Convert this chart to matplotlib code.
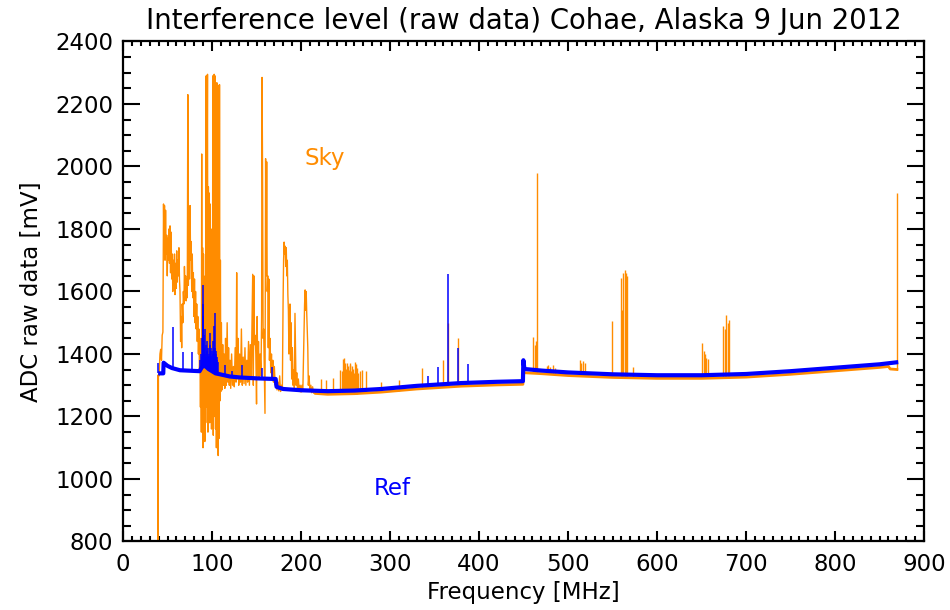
import numpy as np
import matplotlib
matplotlib.use('Agg')
import matplotlib.pyplot as plt
from matplotlib.ticker import MultipleLocator

# Sky channel: dense, RFI-heavy part of the trace (MHz, mV)
sky_dense_freq = [39.0, 39.5, 39.8, 40.5, 41.5, 42.3, 43.2, 44.0, 44.8, 45.5, 46.0, 46.6, 47.2, 47.8,
                  48.4, 49.1, 49.7, 50.3, 50.9, 51.5, 52.2, 52.8, 53.4, 54.0, 54.7, 55.3, 55.9, 56.5,
                  57.2, 57.8, 58.4, 59.0, 59.7, 60.3, 60.9, 61.5, 62.2, 62.8, 63.4, 64.0, 64.7, 65.3,
                  65.9, 66.5, 67.2, 67.8, 68.4, 69.0, 69.7, 70.3, 70.9, 71.5, 72.2, 72.8, 73.4, 74.0,
                  74.7, 75.3, 75.9, 76.5, 77.2, 77.8, 78.4, 79.0, 79.7, 80.3, 80.9, 81.5, 82.2, 82.8,
                  83.4, 84.0, 84.7, 85.3, 85.9, 86.5, 87.0, 87.5, 88.0, 88.4, 88.9, 89.4, 89.9, 90.4,
                  90.9, 91.4, 91.9, 92.4, 92.9, 93.4, 93.9, 94.4, 94.9, 95.4, 95.9, 96.4, 96.9, 97.4,
                  97.9, 98.4, 98.9, 99.4, 99.9, 100.4, 100.9, 101.4, 101.9, 102.4, 102.9, 103.4,
                  103.9, 104.4, 104.9, 105.4, 105.9, 106.4, 106.9, 107.4, 107.9, 108.4, 108.9,
                  109.4, 109.9, 110.5, 111.2, 112.0, 112.8, 113.6, 114.4, 115.2, 116.0, 117.0,
                  117.8, 118.6, 119.4, 120.2, 121.0, 122.0, 123.0, 124.0, 125.0, 126.0, 127.0,
                  127.7, 128.4, 129.2, 130.0, 131.0, 132.0, 133.0, 134.0, 135.0, 136.0, 137.0,
                  138.0, 139.0, 140.0, 141.0, 142.0, 143.0, 144.0, 145.0, 145.7, 146.4, 147.0,
                  147.7, 148.4, 149.2, 150.0, 150.7, 151.4, 152.2, 153.0, 154.0, 155.0, 155.7,
                  156.2, 156.8, 157.4, 158.0, 158.7, 159.5, 160.2, 160.8, 161.4, 162.0, 162.6,
                  163.2, 163.8, 164.5, 165.2, 166.0, 166.8, 167.5, 168.3, 169.0, 170.0, 171.0,
                  172.0, 173.0, 174.0, 175.0, 176.0, 177.0, 178.0, 179.0, 179.8, 180.4, 181.0,
                  181.6, 182.2, 182.8, 183.4, 184.0, 184.6, 185.2, 185.8, 186.4, 187.0, 187.6,
                  188.2, 188.8, 189.5, 190.2, 191.0, 191.8, 192.5, 193.2, 193.8, 194.4, 195.2,
                  196.0, 197.0, 198.0, 199.0, 200.0, 201.0, 202.0, 203.2, 204.0, 204.6, 205.2,
                  205.8, 206.4, 207.0, 207.6, 208.2, 209.0, 210.0, 211.0, 212.0, 213.0, 214.0, 215.0]
sky_dense_mv = [1330, 780, 1335, 1330, 1400, 1415, 1380, 1460, 1470, 1880, 1760, 1875, 1700, 1860,
                1720, 1780, 1650, 1770, 1700, 1800, 1690, 1810, 1660, 1790, 1640, 1720, 1600, 1700,
                1620, 1720, 1590, 1690, 1610, 1730, 1630, 1700, 1650, 1740, 1640, 1600, 1440, 1520,
                1420, 1560, 1500, 1600, 1560, 1680, 1600, 1650, 1570, 1640, 1580, 2230, 1620, 1860,
                1640, 1875, 1700, 1760, 1600, 1720, 1580, 1660, 1520, 1640, 1500, 1600, 1480, 1560,
                1440, 1520, 1400, 1480, 1350, 1400, 1230, 1450, 1150, 2040, 1200, 1740, 1100, 1720,
                1250, 1600, 1120, 1650, 1180, 2290, 1230, 1900, 2295, 1150, 1935, 1250, 1915, 1180,
                1880, 1300, 1700, 1160, 1800, 1240, 2290, 1140, 1950, 2295, 1200, 2290,
                1160, 2265, 1100, 2268, 1300, 2260, 1075, 1900, 1130, 2262, 1250,
                1700, 1280, 1500, 1285, 1430, 1300, 1400, 1290, 1450, 1300, 1500,
                1310, 1420, 1300, 1380, 1290, 1400, 1300, 1360, 1295, 1420, 1310,
                1660, 1320, 1450, 1300, 1400, 1310, 1480, 1300, 1390, 1305, 1420,
                1300, 1380, 1310, 1440, 1300, 1430, 1320, 1520, 1655, 1300, 1650,
                1430, 1460, 1400, 1240, 1520, 1330, 1440, 1320, 1400, 1330, 1520,
                2285, 1960, 1450, 1480, 1350, 1210, 2025, 1650, 2015, 1600, 1650,
                1420, 1640, 1380, 1450, 1340, 1400, 1320, 1380, 1310, 1360, 1300,
                1320, 1285, 1310, 1282, 1330, 1280, 1300, 1285, 1560, 1700, 1758,
                1720, 1745, 1680, 1740, 1650, 1700, 1590, 1540, 1400, 1450, 1560,
                1380, 1500, 1320, 1420, 1300, 1350, 1290, 1530, 1420, 1300, 1340,
                1285, 1320, 1280, 1300, 1278, 1300, 1280, 1450, 1560, 1605, 1540,
                1600, 1530, 1480, 1420, 1300, 1330, 1280, 1300, 1276, 1295, 1275, 1274]

# Sky channel floor above 215 MHz and the narrow RFI lines on top of it
sky_floor_freq = [215, 230, 260, 290, 330, 380, 420, 449.3, 449.8, 451, 470, 500, 550, 600, 650,
                  700, 750, 800, 850, 860, 862, 871]
sky_floor_mv = [1274, 1271, 1273, 1278, 1288, 1297, 1301, 1303, 1340, 1340, 1337, 1331, 1325, 1322,
                1322, 1326, 1335, 1346, 1357, 1360, 1352, 1350]
sky_spike_freq = [222, 228, 236, 244, 245.5, 247, 248, 249, 250.5, 251.5, 252.5, 253.5, 254.5, 255.5,
                  256.5, 257.5, 258.5, 259.5, 260.5, 261.5, 262.5, 264, 266, 268, 273, 290, 310,
                  335.6, 359.6, 365.5, 376.8, 461, 462.5, 463.5, 464.8, 476, 478, 480, 483, 485,
                  513.5, 515, 517, 519, 549.8, 560, 561, 562, 563.5, 565, 566.5, 573,
                  651, 652.5, 654, 655.5, 657, 674.5, 676, 678, 679.5, 681, 870]
sky_spike_top = [1320, 1318, 1322, 1350, 1345, 1385, 1387, 1370, 1352, 1372, 1362, 1350, 1366, 1372,
                 1345, 1362, 1352, 1340, 1375, 1368, 1355, 1340, 1345, 1350, 1346, 1310, 1318,
                 1355, 1381, 1499, 1451, 1455, 1430, 1440, 1978, 1360, 1365, 1358, 1365, 1355,
                 1381, 1372, 1378, 1371, 1505, 1643, 1541, 1660, 1669, 1660, 1650, 1358,
                 1436, 1410, 1400, 1388, 1385, 1488, 1480, 1525, 1500, 1510, 1916]

# Reference channel: baseline and spikes
ref_base_freq = [39.5, 45.2, 45.6, 50, 55, 64, 86, 88, 90, 93, 96, 100, 104, 109, 120, 131, 150,
                 171.5, 172.5, 180, 200, 230, 260, 290, 330, 380, 420, 449.3, 449.8, 451, 470, 500,
                 550, 600, 650, 700, 750, 800, 850, 871]
ref_base_mv = [1338, 1338, 1372, 1362, 1355, 1348, 1345, 1355, 1362, 1360, 1352, 1345, 1338, 1335,
               1328, 1325, 1322, 1320, 1295, 1288, 1284, 1281, 1283, 1288, 1298, 1307, 1311, 1313,
               1380, 1352, 1347, 1341, 1335, 1332, 1332, 1336, 1345, 1356, 1367, 1374]
ref_spike_freq = [39.5, 56.5, 67.8, 77.9, 86.8, 87.6, 88.3, 88.8, 89.3, 89.6, 90.0, 90.5, 91.0, 91.6,
                  92.2, 92.8, 93.4, 94.0, 94.6, 95.2, 95.8, 96.4, 97.0, 97.6, 98.2, 98.8, 99.4,
                  100.0, 100.6, 101.2, 101.8, 102.4, 102.8, 103.4, 104.0, 104.6, 105.3, 106.0,
                  106.8, 114.6, 122.0, 133.3, 155.8, 167.0, 343.0, 354.0, 365.5, 376.8, 388.0]
ref_spike_top = [1372, 1487, 1407, 1407, 1380, 1400, 1450, 1390, 1560, 1621, 1520, 1460, 1420, 1480,
                 1400, 1430, 1390, 1440, 1410, 1390, 1420, 1400, 1395, 1430, 1467, 1420, 1395,
                 1410, 1440, 1400, 1420, 1490, 1531, 1420, 1400, 1410, 1390, 1380,
                 1375, 1365, 1345, 1365, 1354, 1358, 1330, 1358, 1656, 1418, 1368]

sky_color = '#ff8c00'
ref_color = '#0000ff'

plt.rcParams['font.family'] = ['DejaVu Sans']
plt.rcParams['font.size'] = 16.5

fig = plt.figure(figsize=(9.5, 6.1), dpi=100)
ax = fig.add_axes([0.1295, 0.1123, 0.8432, 0.8197])

# sky
ax.plot(sky_dense_freq, sky_dense_mv, color=sky_color, lw=1.0, zorder=2)
ax.plot(sky_floor_freq, sky_floor_mv, color=sky_color, lw=2.0, zorder=2, solid_capstyle='butt')
sky_spike_base = np.interp(sky_spike_freq, sky_floor_freq, sky_floor_mv)
ax.vlines(sky_spike_freq, sky_spike_base, sky_spike_top, color=sky_color, lw=1.0, zorder=2)

# ref
ax.plot(ref_base_freq, ref_base_mv, color=ref_color, lw=3.0, zorder=3, solid_capstyle='butt')
ref_spike_base = np.interp(ref_spike_freq, ref_base_freq, ref_base_mv)
ax.vlines(ref_spike_freq, ref_spike_base, ref_spike_top, color=ref_color, lw=1.1, zorder=3)

ax.text(227, 2027, 'Sky', color=sky_color, ha='center', va='center')
ax.text(302, 971, 'Ref', color=ref_color, ha='center', va='center')

ax.set_xlim(0, 900)
ax.set_ylim(800, 2400)
ax.xaxis.set_major_locator(MultipleLocator(100))
ax.xaxis.set_minor_locator(MultipleLocator(10))
ax.yaxis.set_major_locator(MultipleLocator(200))
ax.yaxis.set_minor_locator(MultipleLocator(50))

ax.tick_params(which='both', direction='in', top=True, right=True, width=1.5, colors='black')
ax.tick_params(axis='x', which='major', length=7.5, pad=8)
ax.tick_params(axis='x', which='minor', length=3.8)
ax.tick_params(axis='y', which='major', length=12, pad=7)
ax.tick_params(axis='y', which='minor', length=6)
for s in ax.spines.values():
    s.set_linewidth(1.6)

ax.set_title('Interference level (raw data) Cohae, Alaska 9 Jun 2012', pad=9)
ax.set_xlabel('Frequency [MHz]', labelpad=4)
ax.set_ylabel('ADC raw data [mV]', labelpad=9)

plt.savefig('out.png', dpi=100)
